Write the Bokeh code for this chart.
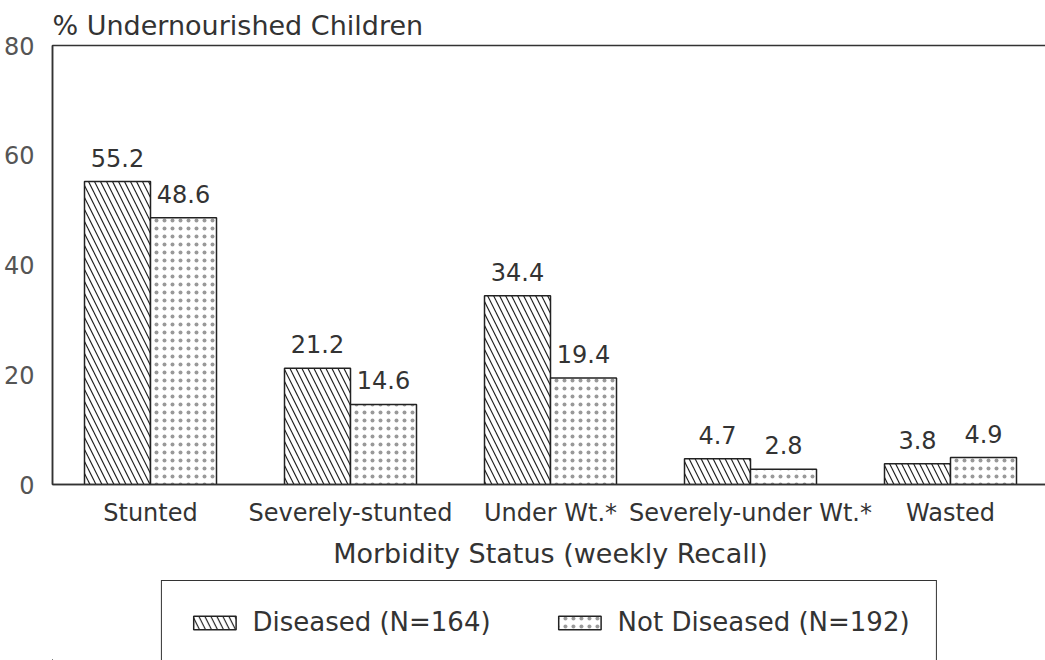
from bokeh.plotting import figure
from bokeh.layouts import column
from bokeh.models import (ColumnDataSource, FixedTicker, LabelSet, Legend, LegendItem)
from bokeh.core.properties import value
from bokeh.embed import file_html
from bokeh.resources import INLINE
import numpy as np

categories = ["Stunted", "Severely-stunted", "Under Wt.*", "Severely-under Wt.*", "Wasted"]
diseased = [55.2, 21.2, 34.4, 4.7, 3.8]
not_diseased = [48.6, 14.6, 19.4, 2.8, 4.9]
y_ticks = [0, 20, 40, 60, 80]
series_names = ["Diseased (N=164)", "Not Diseased (N=192)"]

FONT = "DejaVu Sans"
BW = 0.33
centers = np.arange(len(categories)) + 0.5

src_d = ColumnDataSource(dict(x=centers - BW / 2, top=diseased,
                              lab=[f"{v:.1f}" for v in diseased]))
src_n = ColumnDataSource(dict(x=centers + BW / 2, top=not_diseased,
                              lab=[f"{v:.1f}" for v in not_diseased]))

D_STYLE = dict(fill_color="white", line_color="#222222", line_width=1.5,
               hatch_pattern="\\", hatch_color="#222222", hatch_scale=12, hatch_weight=1.2)
N_STYLE = dict(fill_color="white", line_color="#222222", line_width=1.5,
               hatch_pattern=".", hatch_color="#999999", hatch_scale=8, hatch_weight=0.7)

p = figure(frame_width=996, frame_height=439, output_backend="svg", toolbar_location=None,
           x_range=(0.01, 4.99), y_range=(0, 80),
           min_border_left=49, min_border_right=0, min_border_top=45, min_border_bottom=96)

p.xgrid.visible = False
p.ygrid.visible = False
p.outline_line_color = "#333333"
p.outline_line_width = 1.5
p.background_fill_color = "white"
p.border_fill_color = "white"

# title
p.title.text = "% Undernourished Children"
p.title.align = "left"
p.title.text_font = FONT
p.title.text_font_size = "27px"
p.title.text_font_style = "normal"
p.title.text_color = "#333333"
p.title.standoff = 9

r1 = p.vbar(x="x", top="top", width=BW, bottom=0, source=src_d, **D_STYLE)
r2 = p.vbar(x="x", top="top", width=BW, bottom=0, source=src_n, **N_STYLE)

for s in (src_d, src_n):
    p.add_layout(LabelSet(x="x", y="top", text="lab", source=s, text_align="center",
                          text_baseline="bottom", y_offset=15, text_font=value(FONT),
                          text_font_size=value("24px"), text_color="#333333"))

# x axis
p.xaxis.ticker = FixedTicker(ticks=list(centers))
p.xaxis.major_label_overrides = {float(c): cat for c, cat in zip(centers, categories)}
p.xaxis.major_tick_line_color = None
p.xaxis.minor_tick_line_color = None
p.xaxis.axis_line_color = "#333333"
p.xaxis.axis_line_width = 1.5
p.xaxis.major_label_standoff = 8
p.xaxis.major_label_text_font = FONT
p.xaxis.major_label_text_font_size = "24px"
p.xaxis.major_label_text_color = "#333333"
p.xaxis.axis_label = "Morbidity Status (weekly Recall)"
p.xaxis.axis_label_text_font = FONT
p.xaxis.axis_label_text_font_size = "27px"
p.xaxis.axis_label_text_font_style = "normal"
p.xaxis.axis_label_text_color = "#333333"
p.xaxis.axis_label_standoff = 8

# y axis
p.yaxis.ticker = FixedTicker(ticks=y_ticks)
p.yaxis.major_tick_line_color = None
p.yaxis.minor_tick_line_color = None
p.yaxis.axis_line_color = "#333333"
p.yaxis.axis_line_width = 1.5
p.yaxis.major_label_standoff = 12
p.yaxis.major_label_text_font = FONT
p.yaxis.major_label_text_font_size = "24px"
p.yaxis.major_label_text_color = "#555555"

# legend strip below the chart (its bars lie outside its view; only the legend shows)
p2 = figure(width=1045, height=80, output_backend="svg", toolbar_location=None,
            x_range=(100, 101), y_range=(100, 101), min_border=0)
p2.axis.visible = False
p2.grid.visible = False
p2.outline_line_color = None
p2.background_fill_color = "white"
p2.border_fill_color = "white"
l1 = p2.vbar(x="x", top="top", width=BW, bottom=0, source=src_d, **D_STYLE)
l2 = p2.vbar(x="x", top="top", width=BW, bottom=0, source=src_n, **N_STYLE)

legend = Legend(items=[LegendItem(label=series_names[0], renderers=[l1]),
                       LegendItem(label=series_names[1], renderers=[l2])],
                location="top_center", orientation="horizontal",
                glyph_width=53, glyph_height=17, label_standoff=12, spacing=62,
                padding=26, margin=0, border_line_color="#333333", border_line_width=1.5,
                border_line_alpha=1.0,
                label_text_font=FONT, label_text_font_size="26px", label_text_color="#333333",
                background_fill_color="white", background_fill_alpha=1.0)
p2.add_layout(legend, "center")

layout = column(p, p2, spacing=0)
open("out.html", "w").write(file_html(layout, INLINE))
